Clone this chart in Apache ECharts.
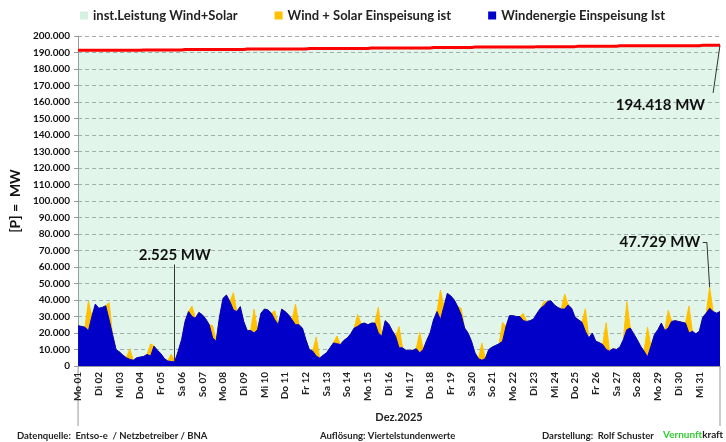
<!DOCTYPE html>
<html><head><meta charset="utf-8">
<script src="https://cdn.jsdelivr.net/npm/echarts@6/dist/echarts.min.js"></script>
<style>html,body{margin:0;padding:0;background:#fff}#c{width:726px;height:442px}</style>
</head><body><div id="c"></div>
<script>
// Day labels (Dez. 2025)
const dayLabels = ['Mo 01','Di 02','Mi 03','Do 04','Fr 05','Sa 06','So 07','Mo 08','Di 09','Mi 10','Do 11','Fr 12','Sa 13','So 14','Mo 15','Di 16','Mi 17','Do 18','Fr 19','Sa 20','So 21','Mo 22','Di 23','Mi 24','Do 25','Fr 26','Sa 27','So 28','Mo 29','Di 30','Mi 31'];

// Wind power [MW], 4-hourly (00,04,08,12,16,20 h) per day, plus 01.01. 00h
const windMW = [
 24400,24000,23500,21400,30000,37500,
 35000,35500,36500,28000,19000,10000,
 8500,6500,5000,4000,3500,5000,
 5400,5800,7000,6000,12000,9500,
 7500,4500,3000,2700,2525,9000,
 16000,27000,33000,30000,29000,32500,
 31000,28500,25000,17000,15000,30000,
 41000,43000,39000,34000,33000,36000,
 27000,21500,21500,20000,22000,32000,
 34500,34000,32000,28000,25000,34500,
 33000,31000,28000,25000,25000,23000,
 16000,10000,9000,6000,4800,6500,
 8000,11000,14000,13500,13000,15500,
 17000,19500,23000,24000,25500,26000,
 25000,26000,26000,20000,18000,27500,
 25500,21500,18000,11000,11000,9500,
 9500,9500,10500,8000,10000,15500,
 20000,28000,33000,28000,36000,44000,
 42500,40000,36000,31000,23000,20000,
 15000,8000,4500,3500,4500,10000,
 11500,12500,13500,15000,24000,30500,
 30500,30000,30000,27500,27000,27500,
 28500,32000,35000,36500,39000,39500,
 37000,35500,34500,34500,37000,35000,
 29500,28000,26500,21000,17000,20000,
 15000,14200,13000,10000,9000,10500,
 10000,11500,16000,22000,23000,19500,
 16000,12000,9000,5500,12000,19000,
 22000,26000,21500,23000,27000,27500,
 27000,26500,26000,20000,21000,19500,
 21000,29500,32000,35000,33000,32000,
 33000];

// Solar contribution at midday [MW], per day
const solarNoonMW = [18000,10400,6400,7400,4500,6300,7500,10400,14400,5500,12500,11600,4700,7200,15600,12800,12400,18000,4000,10300,11400,4300,2500,9000,13700,16200,17000,18000,10800,16400,12729];

// Installed capacity wind + solar [MW], per day
const installedMW = [191300,191300,191300,191580,191580,191860,191860,191860,192150,192150,192150,192430,192430,192430,192710,192710,192710,193000,193000,193280,193280,193280,193560,193560,193850,193850,194130,194130,194130,194130,194418];

const fmt = n => String(Math.round(n)).replace(/\B(?=(\d{3})+(?!\d))/g, '.');
const PER_DAY = 6;
const last = windMW.length - 1;

const windData = windMW.map((v, i) => [i, v]);
const totalData = windMW.map((v, i) => {
  const d = Math.floor(i / PER_DAY), h = i % PER_DAY;
  return [i, v + (h === 3 && d < solarNoonMW.length ? solarNoonMW[d] : 0)];
});
const instData = windMW.map((_, i) => [i, installedMW[Math.min(Math.floor(i / PER_DAY), installedMW.length - 1)]]);

let minI = 0, maxI = 0;
totalData.forEach((p, i) => { if (p[1] < totalData[minI][1]) minI = i; if (p[1] > totalData[maxI][1]) maxI = i; });
const minV = totalData[minI][1], maxV = totalData[maxI][1];
const instEnd = instData[last][1];

const FONT = 'Lato';
const labelStyle = { show: true, fontFamily: FONT, fontWeight: 'bold', fontSize: 15, color: '#111' };
const hidden = { symbol: 'rect', symbolSize: 1, itemStyle: { color: 'rgba(0,0,0,0)' } };
const footStyle = { fontSize: 9.5, fontWeight: 'bold', color: '#222', fontFamily: FONT };

const chart = echarts.init(document.getElementById('c'), null, { renderer: 'canvas' });
chart.setOption({
  animation: false,
  textStyle: { fontFamily: FONT },
  title: [
    { text: 'Datenquelle:  Entso-e  / Netzbetreiber / BNA', left: 12, top: 426, textStyle: footStyle },
    { text: 'Auflösung: Viertelstundenwerte', left: 315, top: 426, textStyle: footStyle },
    { text: 'Darstellung:  Rolf Schuster', left: 537, top: 426, textStyle: footStyle },
    { text: '{g|Vernunft}{k|kraft}', left: 658, top: 425, textStyle: { fontSize: 10, fontFamily: FONT,
      rich: { g: { color: '#33cc33', fontSize: 10, fontWeight: 'bold', fontFamily: FONT }, k: { color: '#222', fontSize: 10, fontWeight: 'bold', fontFamily: FONT } } } }
  ],
  legend: {
    top: 4, left: 75, itemWidth: 8, itemHeight: 8, itemGap: 37,
    textStyle: { fontSize: 13, fontWeight: 'bold', color: '#222', fontFamily: FONT },
    data: [
      { name: 'inst.Leistung Wind+Solar', icon: 'rect', itemStyle: { color: '#d3f0e0' } },
      { name: 'Wind + Solar Einspeisung ist', icon: 'rect', itemStyle: { color: '#ffc000' } },
      { name: 'Windenergie Einspeisung Ist', icon: 'rect', itemStyle: { color: '#0000c8' } }
    ]
  },
  grid: { left: 71, right: 6, top: 36, bottom: 76 },
  xAxis: {
    type: 'value', min: 0, max: last, interval: PER_DAY,
    name: 'Dez.2025', nameLocation: 'middle', nameGap: 46,
    nameTextStyle: { fontWeight: 'bold', fontSize: 11, color: '#222', fontFamily: FONT },
    axisLine: { lineStyle: { color: '#999' } },
    axisTick: { show: false },
    splitLine: { show: false },
    axisLabel: { rotate: 90, fontSize: 10, fontWeight: 'bold', color: '#222', margin: 6, fontFamily: FONT,
      formatter: v => dayLabels[Math.round(v / PER_DAY)] && v < last ? dayLabels[Math.round(v / PER_DAY)] : '' }
  },
  yAxis: {
    type: 'value', min: 0, max: 200000, interval: 10000,
    name: '[P] =  MW', nameLocation: 'middle', nameGap: 52,
    nameTextStyle: { fontSize: 14, fontWeight: 'bold', color: '#111', fontFamily: FONT },
    axisLine: { show: true, lineStyle: { color: '#999' } },
    axisTick: { show: true, length: 4, lineStyle: { color: '#999' } },
    axisLabel: { fontSize: 10, fontWeight: 'bold', color: '#111', margin: 8, fontFamily: FONT, formatter: fmt },
    splitLine: { lineStyle: { color: '#a8a8b0', type: [4, 3] } }
  },
  series: [
    {
      name: 'inst.Leistung Wind+Solar', type: 'line', data: instData, step: 'end', symbol: 'none', z: 1,
      lineStyle: { color: '#ff0000', width: 3 }, itemStyle: { color: '#d3f0e0' },
      areaStyle: { color: 'rgba(120,210,160,0.3)' },
      markLine: { silent: true, symbol: ['none', 'none'], lineStyle: { color: '#333', width: 1, type: 'solid' }, label: { show: false },
        data: [[{ coord: [last, instEnd] }, { coord: [last - 2, 165500] }]] },
      markPoint: Object.assign({}, hidden, { data: [
        { coord: [last - 3.6, 158300], label: Object.assign({}, labelStyle, { position: 'left', distance: 2, formatter: fmt(instEnd) + ' MW' }) }
      ] })
    },
    {
      name: 'Wind + Solar Einspeisung ist', type: 'line', data: totalData, symbol: 'none', z: 2,
      lineStyle: { color: '#ffc000', width: 1 }, itemStyle: { color: '#ffc000' },
      areaStyle: { color: '#ffc000', opacity: 1 }
    },
    {
      name: 'Windenergie Einspeisung Ist', type: 'line', data: windData, symbol: 'none', z: 3,
      lineStyle: { color: '#0000c8', width: 1 }, itemStyle: { color: '#0000c8' },
      areaStyle: { color: '#0000c8', opacity: 1 },
      markLine: { silent: true, symbol: ['none', 'none'], lineStyle: { color: '#333', width: 1, type: 'solid' }, label: { show: false },
        data: [
          [{ coord: [minI, minV] }, { coord: [minI, 61500] }],
          [{ coord: [maxI, maxV] }, { coord: [maxI - 0.8, 75000] }],
          [{ coord: [maxI - 0.8, 75000] }, { coord: [maxI - 2.0, 75000] }]
        ] },
      markPoint: Object.assign({}, hidden, { data: [
        { coord: [minI, 61500], label: Object.assign({}, labelStyle, { position: 'top', distance: 1, formatter: fmt(minV) + ' MW' }) },
        { coord: [maxI - 2.0, 75000], label: Object.assign({}, labelStyle, { position: 'left', distance: 2, formatter: fmt(maxV) + ' MW' }) }
      ] })
    }
  ]
});

// separators of the date label area at both axis ends
const a = chart.convertToPixel({ gridIndex: 0 }, [0, 0]);
const b = chart.convertToPixel({ gridIndex: 0 }, [last, 0]);
chart.setOption({ graphic: [
  { type: 'line', shape: { x1: a[0], y1: a[1], x2: a[0], y2: a[1] + 60 }, style: { stroke: '#999', lineWidth: 1 } },
  { type: 'line', shape: { x1: b[0], y1: b[1], x2: b[0], y2: b[1] + 60 }, style: { stroke: '#999', lineWidth: 1 } }
] });
</script></body></html>
